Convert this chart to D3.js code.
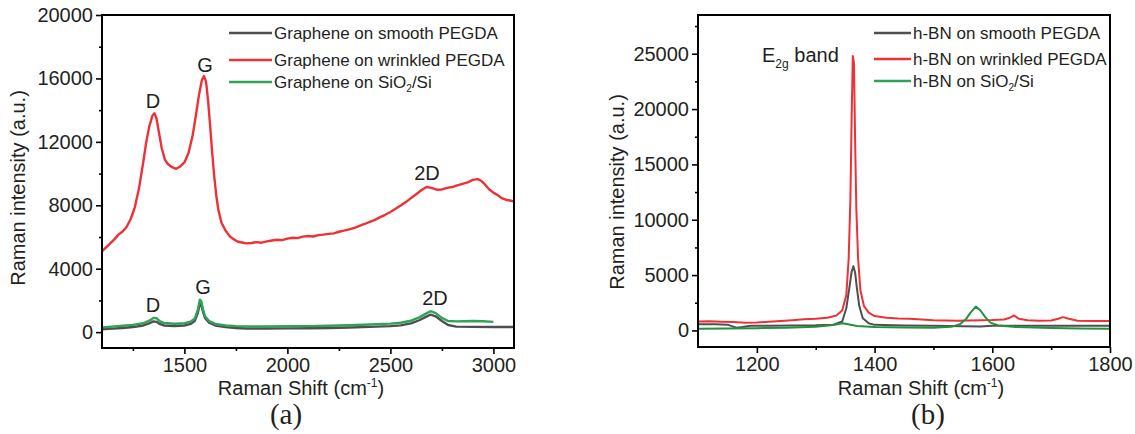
<!DOCTYPE html>
<html>
<head>
<meta charset="utf-8">
<script src="https://cdn.jsdelivr.net/npm/d3@7"></script>
<style>
  body { margin: 0; background: #fff; }
  svg { font-family: "Liberation Sans", Arial, sans-serif; }
</style>
</head>
<body>
<script>
// ---- panel (a): graphene [shift, intensity]
var grWrinkled = [[1100,5100],[1120,5350],[1140,5600],[1160,5850],[1180,6150],[1200,6350],[1220,6650],
  [1240,7150],[1260,7900],[1280,9100],[1300,10700],[1315,12000],[1330,13000],[1345,13650],[1355,13800],
  [1365,13450],[1375,12700],[1390,11600],[1405,10900],[1420,10600],[1440,10400],[1460,10300],[1480,10450],
  [1500,10700],[1520,11300],[1540,12400],[1555,13600],[1570,14900],[1585,15900],[1595,16150],[1605,15800],
  [1615,14600],[1625,13000],[1635,11300],[1645,9800],[1655,8600],[1665,7700],[1680,6900],[1700,6400],
  [1720,6050],[1740,5850],[1760,5700],[1780,5650],[1800,5600],[1825,5620],[1850,5680],[1875,5640],
  [1900,5720],[1925,5780],[1950,5830],[1975,5800],[2000,5900],[2025,5950],[2050,5930],[2075,6020],
  [2100,6060],[2125,6030],[2150,6120],[2175,6150],[2200,6200],[2225,6230],[2250,6330],[2275,6400],
  [2300,6480],[2325,6580],[2350,6700],[2375,6820],[2400,6950],[2425,7080],[2450,7250],[2475,7400],
  [2500,7580],[2525,7780],[2550,7980],[2575,8200],[2600,8450],[2625,8700],[2650,8950],[2675,9150],
  [2700,9100],[2725,8980],[2750,9000],[2775,9100],[2800,9150],[2825,9250],[2850,9350],[2875,9450],
  [2900,9600],[2925,9650],[2940,9550],[2960,9300],[2980,9000],[3000,8800],[3020,8650],[3040,8450],
  [3060,8350],[3080,8300],[3100,8250]];
var grSmooth = [[1100,180],[1150,220],[1200,260],[1250,320],[1300,420],[1330,560],[1350,680],[1365,650],
  [1380,520],[1400,420],[1450,380],[1500,420],[1530,520],[1550,700],[1565,1200],[1575,1800],[1582,1750],
  [1590,1300],[1600,900],[1620,600],[1650,420],[1700,320],[1750,260],[1800,230],[1900,230],[2000,240],
  [2100,250],[2200,260],[2300,290],[2400,330],[2500,380],[2550,430],[2600,550],[2640,750],[2670,950],
  [2695,1100],[2720,1000],[2750,700],[2780,450],[2820,350],[2900,330],[3000,320],[3100,320]];
var grSiO2 = [[1100,300],[1150,350],[1200,400],[1250,460],[1300,560],[1330,720],[1350,900],[1365,880],
  [1380,700],[1400,580],[1450,530],[1500,560],[1530,660],[1550,850],[1565,1400],[1575,2050],[1582,1950],
  [1590,1450],[1600,1000],[1620,700],[1650,520],[1700,420],[1750,380],[1800,360],[1900,360],[2000,370],
  [2100,380],[2200,400],[2300,430],[2400,480],[2500,540],[2550,590],[2600,720],[2640,930],[2670,1150],
  [2695,1320],[2720,1200],[2750,900],[2780,700],[2820,680],[2900,700],[2950,690],[3000,650]];

// ---- panel (b): h-BN
var bnWrinkled = [[1100,800],[1120,820],[1140,780],[1160,760],[1180,700],[1200,720],[1220,780],[1240,850],
  [1260,920],[1280,1000],[1300,1060],[1320,1150],[1335,1350],[1345,1800],[1352,3200],[1356,6500],
  [1359,12000],[1361,19000],[1363,24800],[1365,24200],[1367,17000],[1369,11000],[1372,6500],[1376,3600],
  [1382,2200],[1390,1600],[1400,1300],[1420,1150],[1440,1080],[1460,1050],[1480,980],[1500,920],
  [1520,900],[1540,880],[1560,900],[1580,920],[1600,930],[1620,980],[1630,1150],[1637,1350],[1645,1050],
  [1660,920],[1680,880],[1700,900],[1712,1050],[1720,1200],[1730,1050],[1745,880],[1770,850],[1800,850]];
var bnSmooth = [[1100,550],[1130,560],[1150,520],[1165,250],[1175,300],[1190,420],[1220,430],[1260,440],
  [1300,460],[1330,520],[1345,800],[1352,2000],[1357,3800],[1361,5300],[1364,5800],[1367,5200],
  [1370,3800],[1374,2200],[1380,1100],[1390,650],[1400,500],[1450,450],[1500,420],[1550,380],[1580,350],
  [1600,420],[1650,430],[1700,420],[1750,420],[1800,430]];
var bnSiO2 = [[1100,150],[1150,170],[1200,200],[1250,250],[1300,320],[1330,480],[1345,650],[1355,550],
  [1370,400],[1400,300],[1450,270],[1500,250],[1530,320],[1545,550],[1555,1000],[1563,1600],[1572,2150],
  [1580,1800],[1588,1200],[1597,700],[1610,450],[1640,300],[1700,220],[1750,180],[1800,150]];

var grLegend = ["Graphene on smooth PEGDA", "Graphene on wrinkled PEGDA", "Graphene on SiO|2|/Si"];
var bnLegend = ["h-BN on smooth PEGDA", "h-BN on wrinkled PEGDA", "h-BN on SiO|2|/Si"];

var gray = "#4f4f4f", red = "#ee3136", green = "#2fa356";
var fontSans = "'Liberation Sans', Arial, sans-serif";

var svg = d3.select("body").append("svg")
    .attr("width", 1135)
    .attr("height", 434);

function panel(o) {
  var x = d3.scaleLinear().domain(o.xd).range([o.left, o.right]);
  var y = d3.scaleLinear().domain(o.yd).range([o.bottom, o.top]);
  var g = svg.append("g");

  var line = d3.line()
      .x(function(d) { return x(d[0]); })
      .y(function(d) { return y(d[1]); });

  o.series.forEach(function(s) {
    g.append("path")
      .datum(s.data)
      .attr("fill", "none")
      .attr("stroke", s.color)
      .attr("stroke-width", o.lw)
      .attr("stroke-linejoin", "round")
      .attr("d", line);
  });

  // axes: major + minor
  var fmt = d3.format("d");
  g.append("g")
    .attr("transform", "translate(0," + o.bottom + ")")
    .call(d3.axisBottom(x).tickValues(o.xMajor).tickSize(6).tickSizeOuter(0).tickPadding(4).tickFormat(fmt));
  g.append("g")
    .attr("transform", "translate(0," + o.bottom + ")")
    .call(d3.axisBottom(x).tickValues(o.xMinor).tickSize(3).tickFormat(""));
  g.append("g")
    .attr("transform", "translate(" + o.left + ",0)")
    .call(d3.axisLeft(y).tickValues(o.yMajor).tickSize(6).tickSizeOuter(0).tickPadding(3).tickFormat(fmt));
  g.append("g")
    .attr("transform", "translate(" + o.left + ",0)")
    .call(d3.axisLeft(y).tickValues(o.yMinor).tickSize(3).tickFormat(""));
  g.selectAll(".domain").remove();
  g.selectAll(".tick line").attr("stroke", "#000").attr("stroke-width", 1.6);
  g.selectAll(".tick text")
    .attr("font-family", fontSans)
    .attr("font-size", 20)
    .attr("fill", "#231f20");

  g.append("rect")
    .attr("x", o.left).attr("y", o.top)
    .attr("width", o.right - o.left).attr("height", o.bottom - o.top)
    .attr("fill", "none").attr("stroke", "#000").attr("stroke-width", 2);

  // axis titles
  var xt = g.append("text")
    .attr("x", o.xTitleX).attr("y", 395)
    .attr("text-anchor", "middle")
    .attr("font-size", 20).attr("fill", "#231f20");
  xt.append("tspan").text("Raman Shift (cm");
  xt.append("tspan").attr("font-size", 12).attr("dy", -8).text("-1");
  xt.append("tspan").attr("dy", 8).text(")");

  g.append("text")
    .attr("transform", "translate(" + o.yTitleX + "," + o.yTitleY + ") rotate(-90)")
    .attr("text-anchor", "middle")
    .attr("font-size", 20).attr("fill", "#231f20")
    .text("Raman intensity (a.u.)");

  g.append("text")
    .attr("x", o.capX).attr("y", 424)
    .attr("text-anchor", "middle")
    .attr("font-family", "'Liberation Serif', 'Times New Roman', serif")
    .attr("font-size", 29).attr("fill", "#231f20")
    .text(o.caption);

  // legend
  var leg = g.append("g");
  o.legend.forEach(function(label, i) {
    var c = [gray, red, green][i];
    var by = o.legY[i];
    leg.append("line")
      .attr("x1", o.legX0).attr("x2", o.legX1)
      .attr("y1", by - 6).attr("y2", by - 6)
      .attr("stroke", c).attr("stroke-width", 2.5);
    var parts = label.split("|");
    var t = leg.append("text")
      .attr("x", o.legX1 + 2).attr("y", by)
      .attr("font-size", 17).attr("fill", "#231f20");
    t.append("tspan").text(parts[0]);
    if (parts.length > 1) {
      t.append("tspan").attr("font-size", 10).attr("dy", 4).text(parts[1]);
      t.append("tspan").attr("dy", -4).text(parts[2]);
    }
  });

  return g;
}

var gA = panel({
  xd: [1100, 3100], yd: [-1000, 20000],
  left: 102, right: 514, top: 15, bottom: 348,
  xMajor: [1500, 2000, 2500, 3000], xMinor: [1250, 1750, 2250, 2750],
  yMajor: [0, 4000, 8000, 12000, 16000, 20000], yMinor: [2000, 6000, 10000, 14000, 18000],
  series: [{data: grSmooth, color: gray}, {data: grSiO2, color: green}, {data: grWrinkled, color: red}],
  lw: 2.4,
  xTitleX: 301, yTitleX: 25, yTitleY: 188, capX: 286, caption: "(a)",
  legend: grLegend, legX0: 229, legX1: 272, legY: [39, 66, 88]
});

var peaks = [["D", 153, 108], ["G", 205, 72], ["2D", 427, 180], ["D", 153, 312], ["G", 203, 294], ["2D", 435, 305]];
gA.selectAll(".peak").data(peaks).enter().append("text")
  .attr("class", "peak")
  .attr("x", function(d) { return d[1]; })
  .attr("y", function(d) { return d[2]; })
  .attr("text-anchor", "middle")
  .attr("font-size", 20).attr("fill", "#231f20")
  .text(function(d) { return d[0]; });

var gB = panel({
  xd: [1100, 1800], yd: [-1500, 28500],
  left: 698, right: 1110, top: 15, bottom: 347,
  xMajor: [1200, 1400, 1600, 1800], xMinor: [1300, 1500, 1700],
  yMajor: [0, 5000, 10000, 15000, 20000, 25000], yMinor: [2500, 7500, 12500, 17500, 22500, 27500],
  series: [{data: bnWrinkled, color: red}, {data: bnSmooth, color: gray}, {data: bnSiO2, color: "#23913f"}],
  lw: 2,
  xTitleX: 921, yTitleX: 624, yTitleY: 192, capX: 928, caption: "(b)",
  legend: bnLegend, legX0: 874, legX1: 911, legY: [39, 65, 87]
});

var e2g = gB.append("text")
  .attr("x", 762).attr("y", 62)
  .attr("font-size", 20).attr("fill", "#231f20");
e2g.append("tspan").text("E");
e2g.append("tspan").attr("font-size", 12).attr("dy", 6).text("2g");
e2g.append("tspan").attr("dy", -6).text(" band");
</script>
</body>
</html>
